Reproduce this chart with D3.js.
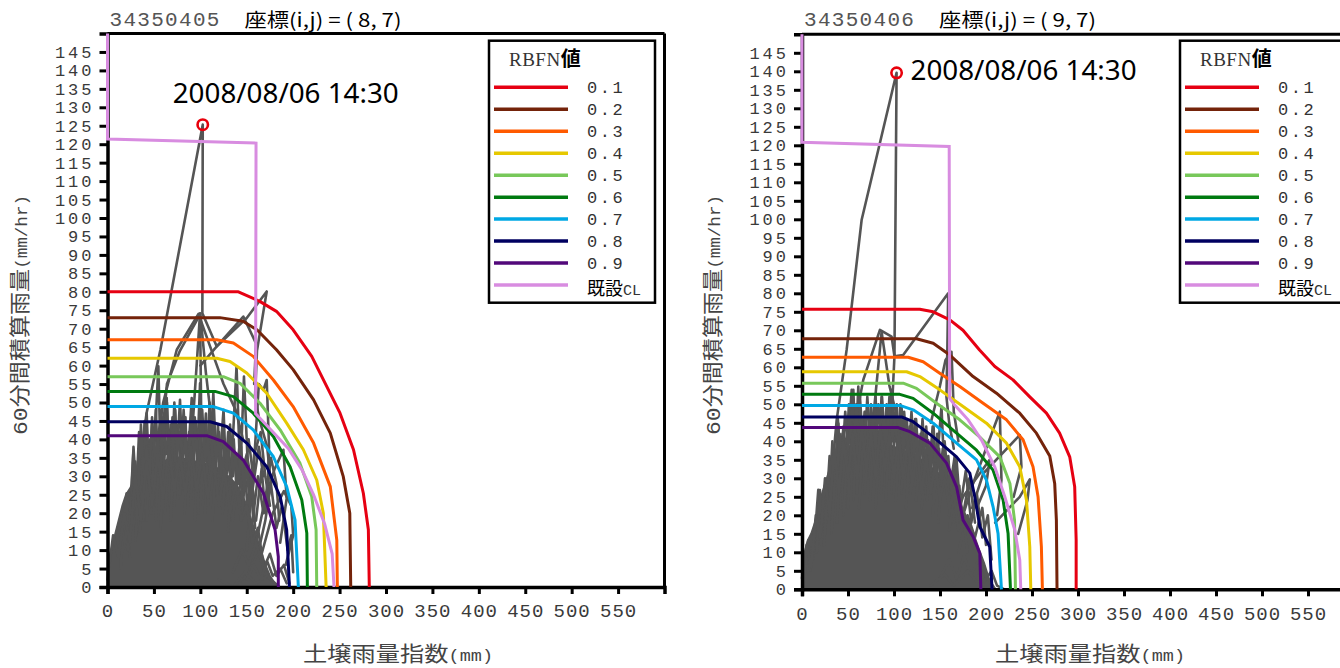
<!DOCTYPE html>
<html><head><meta charset="utf-8">
<script src="https://cdn.jsdelivr.net/npm/d3@7"></script>
<style>body{margin:0;background:#fff;overflow:hidden}</style>
</head><body>
<svg id="c" width="1340" height="668"></svg>
<script>
// ---------------- DATA ----------------
const rbfnLabels = ["0.1","0.2","0.3","0.4","0.5","0.6","0.7","0.8","0.9"];
const xTicks = [0,50,100,150,200,250,300,350,400,450,500,550];
const yTicks = [0,5,10,15,20,25,30,35,40,45,50,55,60,65,70,75,80,85,90,95,100,105,110,115,120,125,130,135,140,145];

const leftCode = "34350405", leftCoord = "座標(i,j) = ( 8, 7)";
const rightCode = "34350406", rightCoord = "座標(i,j) = ( 9, 7)";
const peakLabel = "2008/08/06 14:30";
const leftPeak = [102.6,125.3];
const rightPeak = [102.8,139.6];

const leftRBFN = [
 [[0,80],[141,80],[164,77.4],[182,74.7],[200,69.7],[220,62.5],[250.5,47.1],[265,37.2],[275.6,25.4],[281,15.5],[282,0]],
 [[0,73],[121,73],[146,72],[161,69.7],[182,64.3],[200,58.9],[222,50.7],[240,41.7],[254,29.9],[261,20],[262,0]],
 [[0,67],[117.7,67],[135.6,66.1],[157,62.5],[178.7,56.1],[200,48.9],[222,39],[240,27.2],[247,12.7],[247.6,0]],
 [[0,62],[117.7,62],[132,61.1],[150,58],[171.5,52.5],[193,44.4],[211,37.2],[225.4,29],[232.5,20],[235.5,0]],
 [[0,57],[124.8,57],[142.8,55.2],[164.3,49.8],[186,42.6],[207.4,33.5],[220,24.5],[224.7,15.5],[225.4,0]],
 [[0,53],[115.8,53],[135.6,51.6],[157,47.1],[178.7,40.8],[196.7,32.6],[209.3,23.6],[214.7,14.6],[215.3,0]],
 [[0,48.9],[114,48.9],[135.6,47.1],[157,42.6],[178.7,35.3],[193,27.2],[202,18.2],[205.6,0]],
 [[0,44.8],[110.5,44.8],[128.4,43.5],[150,39],[171.5,32.6],[186,24.5],[193,15.5],[196,0]],
 [[0,41],[106.9,41],[124.8,39.4],[146.3,34.4],[168,25.4],[180.5,15.5],[184,8.2],[184,0]]
];
const rightRBFN = [
 [[0,75.7],[128,75.7],[142.6,75],[160.7,72.8],[175,70],[193,64.7],[209.6,60.2],[229.4,56.6],[247.6,52],[265.7,47.6],[280,42.2],[291,35.8],[296.4,27.7],[298,13.3],[298,0]],
 [[0,67.7],[124.5,67.7],[142.6,66.5],[160.7,63.3],[186,57.5],[211.4,53],[236.7,47.6],[254.8,42.2],[269.3,36],[274.7,28.5],[276.5,18.7],[277.2,0]],
 [[0,62.7],[115.4,62.7],[131.7,61.5],[149.8,58.4],[171.5,54.8],[196.9,50.3],[222.3,45.8],[240.3,40.4],[251.1,33.1],[256.6,25],[260.2,11.5],[261.3,0]],
 [[0,58.8],[113.7,58.8],[128.1,57.5],[149.8,53.9],[175.1,49.4],[200.5,44.9],[222.3,39.5],[236.7,33.1],[244,24.1],[247.6,11.5],[248.7,0]],
 [[0,55.7],[110,55.7],[124.5,54.3],[146.2,50.3],[171.5,45.8],[193,41.2],[215,35.8],[226,28.6],[231,18.7],[232,0]],
 [[0,52.7],[106.4,52.7],[120.8,51.6],[142.6,47.6],[168,42.2],[189.7,37.6],[207.7,32.2],[218.6,24.1],[224,15.1],[226.6,0]],
 [[0,49.7],[106.4,49.7],[120.8,48.5],[142.6,44.9],[168,39.5],[189.7,35],[200.5,29.5],[207.7,22.3],[213.1,15.1],[216.8,0]],
 [[0,46.6],[108.2,46.6],[120.8,45.3],[142.6,41.2],[168,35.8],[182.4,31.4],[187.8,25],[193.3,16.9],[204,11.5],[206.6,0]],
 [[0,43.7],[104.6,43.7],[117.3,42.6],[139,39.5],[157.1,34.1],[168,27.7],[175.1,18.7],[186,14.2],[193.3,9.7],[194.4,0]]
];
const leftCL = [[0,150],[0,121.4],[160,120.3],[159.5,47],[164,45.8],[182,41],[195,37.5],[210,31.5],[222,25],[234,17],[242,9],[244,0]];
const rightCL = [[0,150],[0,120.8],[160,119.7],[160.5,51.6],[166,49.8],[180.6,45.8],[195,40.4],[209.5,33.1],[220.4,25],[231.3,16],[236.7,7.9],[237.8,0]];

// dense core of the snake lines (outline)
const leftMass = [[0,0],[0,4],[3,9],[8,14],[12,18],[16,22],[20,25],[25,27],[30,30],[35,32],[40,33],[50,34],[60,34],[70,35],[80,35],[90,34],[100,34],[110,33],[120,32],[130,30],[138,28],[145,25],[150,22],[155,18],[160,14],[165,10],[170,6],[175,3],[180,1],[182,0]];
const rightMass = [[0,0],[0,5],[3,10],[6,13],[10,15],[14,18],[18,22],[22,26],[27,30],[32,34],[38,37],[45,38],[55,39],[65,40],[75,39],[85,40],[95,39],[105,38],[115,37],[125,36],[135,34],[145,32],[155,30],[162,27],[170,24],[178,20],[185,16],[192,11],[198,7],[203,3],[207,0]];

const leftTracks = [
 [[20,10],[32,28],[42,47],[57,64.3],[71,83],[102.6,125.3],[102.2,74.2],[117.7,65.2],[150,72.9],[171.5,80.1],[161,64],[159,52],[163,46],[172,38],[176,28],[170,18],[162,9],[150,3],[135,0]],
 [[45,25],[60,50],[74.6,64.3],[98,74],[110.5,65.2],[125,55],[138,48],[146,40]],
 [[55,30],[64,55],[78,64],[100,74],[106,58],[112,45]],
 [[100,60],[117.7,65.2],[146.3,73.3],[160,66],[158,55]],
 [[88,30],[96,60],[99.7,74.2],[101,45]],
 [[14,5],[20.6,25.4],[24,8]],
 [[22,10],[27.8,36.3],[31,14]],
 [[30,12],[36,40],[39,18]],
 [[35,15],[42.2,47.1],[46,22]],
 [[42,18],[48,44],[52,22]],
 [[47,20],[54.8,59.8],[58,26]],
 [[52,18],[58,48],[61,24]],
 [[57,15],[63.8,51.2],[67,22]],
 [[62,20],[68,44],[72,25]],
 [[68,18],[73,48],[76,24]],
 [[72,22],[78.1,50.7],[82,26]],
 [[78,25],[84,46],[87,22]],
 [[83,20],[90.7,51.2],[94,26]],
 [[90,24],[95,45],[98,20]],
 [[94,18],[99.7,55.2],[103,24]],
 [[100,22],[106,47],[109,26]],
 [[105,20],[110,50],[113,25]],
 [[108,22],[114,52.5],[118,28]],
 [[113,18],[119,44],[123,22]],
 [[118,24],[125,48],[129,22]],
 [[124,20],[130,42],[134,18]],
 [[130,15],[139,59.8],[143,30],[147,57],[152,28]],
 [[135,18],[142,38],[146,22]],
 [[145,20],[152,40],[157,30],[163,55],[168,53.4],[171.5,56.1],[174,38],[172,22]],
 [[150,10],[158,36],[165,42],[170,30],[175,22]],
 [[160,12],[170,24],[180,32],[189.5,37.2],[193,24],[186,12]],
 [[165,8],[178,20],[190,26],[198,22],[200,14],[192,6]],
 [[155,15],[162,30],[168,20],[176,35],[182,28],[185,18]],
 [[140,24],[148,34],[156,26],[163,38],[168,30]],
 [[125,28],[135,36],[142,28],[150,36],[158,24]],
 [[160,18],[166,32],[170,20],[176,28],[182,16],[188,22],[194,10],[198,14],[200,4]],
 [[135,4],[145,10],[152,6],[160,12],[168,5],[175,9],[182,3],[190,6],[196,1]],
 [[120,2],[135,0],[148,4],[160,1],[172,3],[185,0]],
 [[150,2],[158,6],[165,2],[172,7],[178,3],[186,5],[193,1]],
 [[25,20],[28,38],[31,25],[34,42],[37,28],[40,45],[43,30],[46,40],[49,32],[52,48],[55,30],[58,44],[61,33],[64,50],[67,32],[70,46],[73,34],[76,44],[79,32],[82,48],[85,34],[88,42],[91,30],[94,46],[97,34],[100,44],[103,30],[106,42],[109,33],[112,46],[115,32],[118,40],[121,30],[124,44],[127,30],[130,38],[133,28],[136,40],[139,26],[142,36],[145,24],[148,32],[151,20],[154,30],[157,18]],
 [[27,22],[30,34],[33,24],[36,44],[39,30],[42,38],[45,28],[48,46],[51,34],[54,40],[57,30],[60,46],[63,36],[66,42],[69,30],[72,50],[75,36],[78,42],[81,34],[84,40],[87,32],[90,46],[93,36],[96,40],[99,32],[102,48],[105,34],[108,40],[111,30],[114,44],[117,34],[120,42],[123,28],[126,40],[129,32],[132,44],[135,30],[138,36],[141,28],[144,38],[147,26],[150,34],[153,22],[156,28],[159,16]],
 [[0,2],[6,14],[12,8],[18,20],[24,12],[30,30],[36,18],[42,34],[48,22],[54,36],[60,24],[66,38],[72,26],[78,36],[84,25],[90,38],[96,26],[102,36],[108,24],[114,35],[120,22],[126,32],[132,20],[138,28],[144,18],[150,22],[156,12],[162,16],[168,6]]
];

const rightTracks = [
 [[25,15],[32,30],[37.7,45.8],[48.5,64.7],[64.8,99.8],[102.8,139.6],[100.5,63],[98,50],[95,38]],
 [[50,30],[60,48],[66.6,56.6],[84.7,70.1],[97.4,68.3],[100.5,63],[110,63.3],[158.9,80],[158,65],[157,52],[160,45],[165,38]],
 [[75,40],[86.5,69.6],[95,55],[102,48]],
 [[140,45],[150,55],[156,62],[162.5,64.2],[165,48],[170,40]],
 [[175,20],[186,28.6],[215,48],[216.8,29.5],[212,20]],
 [[185,22],[197,31.3],[236.7,41.7],[238.5,33.1],[230,25]],
 [[210,18],[236.7,25],[247.6,29.7],[245,24],[235,15]],
 [[165,18],[175,25],[204,35],[200,28],[190,22]],
 [[2,2],[6.9,13.3],[9,5]],
 [[12,8],[17.7,26.9],[21,12]],
 [[16,10],[19.5,26.8],[23,14]],
 [[24,12],[30,36],[33,18]],
 [[32,15],[39.5,44.8],[42,22]],
 [[38,18],[44,42],[47,24]],
 [[45,20],[54,53.9],[57,28]],
 [[50,22],[55.8,53.9],[60,26]],
 [[56,24],[61.2,54.8],[65,28]],
 [[62,22],[68,48],[71,30]],
 [[68,26],[75.6,47.6],[79,30]],
 [[74,24],[80,52],[83,30]],
 [[80,22],[86.5,52],[90,28]],
 [[86,26],[92,50],[95,30]],
 [[91,24],[97.4,53.9],[101,30]],
 [[97,26],[103,50],[106,28]],
 [[102,24],[108.2,49.4],[112,30]],
 [[108,26],[114,46],[117,28]],
 [[113,22],[119,43.9],[123,28]],
 [[118,26],[124,46],[128,30]],
 [[124,24],[130,41.2],[134,26]],
 [[130,22],[137.1,40.3],[141,26]],
 [[136,24],[142,44],[146,28]],
 [[142,20],[151.6,49.4],[155,30]],
 [[148,18],[155,40],[160,26],[166,36],[170,22]],
 [[160,16],[168,30],[175,20],[182,30],[188,18]],
 [[170,10],[180,20],[188,14],[196,22],[200,12]],
 [[160,20],[168,35],[172,22],[178,32],[184,18],[190,26],[196,14],[202,20],[206,8]],
 [[150,3],[160,8],[168,3],[176,9],[184,4],[192,8],[198,2],[206,5],[212,1],[220,0]],
 [[140,1],[155,4],[165,1],[180,5],[190,2],[202,3],[210,0]],
 [[30,25],[33,40],[36,30],[39,46],[42,34],[45,44],[48,36],[51,50],[54,38],[57,46],[60,36],[63,52],[66,40],[69,48],[72,38],[75,50],[78,40],[81,46],[84,38],[87,52],[90,40],[93,48],[96,38],[99,50],[102,40],[105,46],[108,36],[111,48],[114,38],[117,44],[120,36],[123,46],[126,36],[129,42],[132,34],[135,44],[138,32],[141,40],[144,30],[147,42],[150,30],[153,38],[156,28],[159,36],[162,26],[165,32],[168,22],[171,28],[174,18]],
 [[32,28],[35,36],[38,30],[41,42],[44,36],[47,48],[50,38],[53,44],[56,36],[59,50],[62,40],[65,46],[68,38],[71,52],[74,40],[77,46],[80,38],[83,50],[86,40],[89,46],[92,38],[95,52],[98,40],[101,46],[104,38],[107,50],[110,38],[113,44],[116,36],[119,48],[122,36],[125,42],[128,34],[131,46],[134,34],[137,40],[140,32],[143,44],[146,30],[149,38],[152,28],[155,36],[158,26],[161,32],[164,24],[167,30],[170,20]],
 [[0,3],[5,12],[10,6],[15,20],[20,14],[25,30],[30,20],[35,38],[40,26],[45,40],[50,30],[55,42],[60,30],[65,44],[70,32],[75,42],[80,30],[85,44],[90,32],[95,42],[100,30],[105,42],[110,30],[115,40],[120,28],[125,38],[130,26],[135,36],[140,26],[145,34],[150,24],[155,30],[160,22],[165,26],[170,16],[175,20],[180,10]]
];

// ---------------- STYLE / LAYOUT ----------------
const rbfnColors = ["#e60012","#74230a","#ff5a00","#e6c800","#78c85a","#007a10","#00a8e4","#000060","#52087a"];
const clColor = "#d88ce0";
const grayColor = "#555555";
const MONO = "'Liberation Mono','DejaVu Sans Mono',monospace";
const CJK = "'Noto Sans CJK JP','Noto Sans',sans-serif";
const SERIF = "'Liberation Serif','DejaVu Serif',serif";

const panels = [
 {code:leftCode, coord:leftCoord, xr:[107.5,664.5], yr:[587,33.5], legendX:489, tracks:leftTracks, mass:leftMass, curves:leftRBFN, cl:leftCL, peak:leftPeak, annDx:-30, annDy:-22, ylabX:27, xlabCx:398},
 {code:rightCode, coord:rightCoord, xr:[802,1354], yr:[589.3,34.3], legendX:1180, tracks:rightTracks, mass:rightMass, curves:rightRBFN, cl:rightCL, peak:rightPeak, annDx:14, annDy:7, ylabX:720, xlabCx:1090}
];

const svg = d3.select("#c");

panels.forEach(p => {
  const x = d3.scaleLinear().domain([0,600]).range(p.xr);
  const y = d3.scaleLinear().domain([0,150]).range(p.yr);
  const line = d3.line().x(d=>x(d[0])).y(d=>y(d[1]));
  const g = svg.append("g");

  // gray snake lines
  g.append("path").attr("d", line(p.mass)+"Z").attr("fill",grayColor).attr("stroke",grayColor).attr("stroke-width",2);
  g.selectAll("path.trk").data(p.tracks).join("path").attr("class","trk")
    .attr("d", line).attr("fill","none").attr("stroke",grayColor)
    .attr("stroke-width",2.6).attr("stroke-linejoin","round").attr("stroke-linecap","round");

  // frame (top, right)
  g.append("line").attr("x1",x(0)).attr("x2",x(600)).attr("y1",y(150)).attr("y2",y(150)).attr("stroke","#000").attr("stroke-width",3);
  g.append("line").attr("x1",x(600)).attr("x2",x(600)).attr("y1",y(150)).attr("y2",y(0)).attr("stroke","#000").attr("stroke-width",3);

  // axes
  const ya = d3.axisLeft(y).tickValues(yTicks).tickSize(8).tickPadding(4).tickFormat(d3.format("d"));
  const yg = g.append("g").attr("transform",`translate(${x(0)},0)`).call(ya);
  yg.select(".domain").attr("stroke","#000").attr("stroke-width",3.5);
  yg.selectAll(".tick line").attr("stroke","#000").attr("stroke-width",3);
  yg.selectAll(".tick text").attr("font-family",MONO).attr("font-size",17).attr("fill","#3a3a3a")
    .attr("letter-spacing",3).attr("dx",-1);

  const xa = d3.axisBottom(x).tickValues(xTicks).tickSize(7).tickPadding(10).tickFormat(d3.format("d"));
  const xg = g.append("g").attr("transform",`translate(0,${y(0)})`).call(xa);
  xg.select(".domain").attr("stroke","#000").attr("stroke-width",3.5);
  xg.selectAll(".tick line").attr("stroke","#000").attr("stroke-width",3);
  xg.selectAll(".tick text").attr("font-family",MONO).attr("font-size",19).attr("fill","#3a3a3a").attr("letter-spacing",1);

  // RBFN curves
  g.selectAll("path.rbfn").data(p.curves).join("path").attr("class","rbfn")
    .attr("d",line).attr("fill","none").attr("stroke",(d,i)=>rbfnColors[i])
    .attr("stroke-width",3).attr("stroke-linejoin","round");
  // existing CL
  g.append("path").attr("d",line(p.cl)).attr("fill","none").attr("stroke",clColor).attr("stroke-width",3);

  // peak marker + label
  g.append("circle").attr("cx",x(p.peak[0])).attr("cy",y(p.peak[1])).attr("r",5.2)
    .attr("fill","none").attr("stroke","#e8000b").attr("stroke-width",2.6);
  g.append("text").attr("x",x(p.peak[0])+p.annDx).attr("y",y(p.peak[1])+p.annDy)
    .attr("font-family","'Noto Sans',sans-serif").attr("font-size",27).attr("fill","#000")
    .attr("textLength",226).attr("lengthAdjust","spacingAndGlyphs").text(peakLabel);

  // title
  g.append("text").attr("x",x(0)+2).attr("y",26).attr("font-family",MONO).attr("font-size",21)
    .attr("fill","#555").attr("letter-spacing",1.3).text(p.code);
  g.append("text").attr("x",x(0)+137).attr("y",27).attr("font-family",CJK).attr("font-size",19)
    .attr("fill","#000").attr("textLength",157).attr("lengthAdjust","spacingAndGlyphs").text(p.coord);

  // axis titles
  const yl = g.append("text").attr("transform",`translate(${p.ylabX},315) rotate(-90)`)
    .attr("text-anchor","middle").attr("fill","#444").attr("textLength",240).attr("lengthAdjust","spacingAndGlyphs");
  yl.append("tspan").attr("font-family",MONO).attr("font-size",21).text("60");
  yl.append("tspan").attr("font-family",CJK).attr("font-size",21).text("分間積算雨量");
  yl.append("tspan").attr("font-family",MONO).attr("font-size",16).text("(mm/hr)");

  const xl = g.append("text").attr("x",p.xlabCx).attr("y",661).attr("text-anchor","middle")
    .attr("fill","#444").attr("textLength",190).attr("lengthAdjust","spacingAndGlyphs");
  xl.append("tspan").attr("font-family",CJK).attr("font-size",21).text("土壌雨量指数");
  xl.append("tspan").attr("font-family",MONO).attr("font-size",16).text("(mm)");

  // legend
  const lx = p.legendX, ly = 40.7;
  const lg = g.append("g");
  lg.append("rect").attr("x",lx).attr("y",ly).attr("width",166).attr("height",262)
    .attr("fill","#fff").attr("stroke","#000").attr("stroke-width",2.5);
  const lt = lg.append("text").attr("x",lx+20).attr("y",ly+25);
  lt.append("tspan").attr("font-family",SERIF).attr("font-size",19).attr("letter-spacing",0.5).attr("fill","#333").text("RBFN");
  lt.append("tspan").attr("font-family",CJK).attr("font-size",20).attr("font-weight",700).attr("fill","#000").text("値");
  const rows = rbfnLabels.map((l,i)=>({label:l,color:rbfnColors[i]})).concat([{label:null,color:clColor}]);
  rows.forEach((r,i)=>{
    const ry = 87.3 + i*21.97;
    lg.append("line").attr("x1",lx+5).attr("x2",lx+79).attr("y1",ry).attr("y2",ry)
      .attr("stroke",r.color).attr("stroke-width",3.5);
    if (r.label) {
      lg.append("text").attr("x",lx+98).attr("y",ry+6).attr("font-family",MONO).attr("font-size",17)
        .attr("fill","#333").attr("letter-spacing",2.5).text(r.label);
    } else {
      const t = lg.append("text").attr("x",lx+98).attr("y",ry+10);
      t.append("tspan").attr("font-family",CJK).attr("font-size",18).attr("fill","#000").text("既設");
      t.append("tspan").attr("font-family",MONO).attr("font-size",15).attr("fill","#333").text("CL");
    }
  });
});
</script>
</body></html>
